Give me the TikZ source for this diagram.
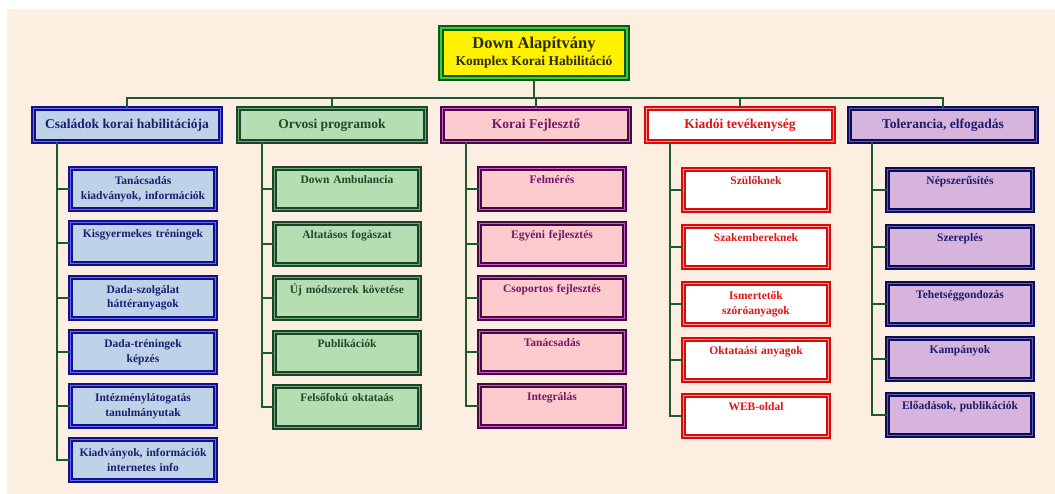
\documentclass[tikz,border=0pt]{standalone}
\usepackage{fontspec}
\setmainfont{Liberation Serif}
\usetikzlibrary{calc,shadows}

\definecolor{pagebg}{HTML}{FDEEE2}
\definecolor{linkgreen}{HTML}{1F5A2E}
\definecolor{topDark}{HTML}{0A5A10}
\definecolor{topLight}{HTML}{3CCB3C}
\definecolor{topText}{HTML}{2A2A05}
\definecolor{famDark}{HTML}{10108A}
\definecolor{famLight}{HTML}{6A6AF5}
\definecolor{famFill}{HTML}{BED2E8}
\definecolor{famText}{HTML}{1A1F70}
\definecolor{medDark}{HTML}{1C4428}
\definecolor{medLight}{HTML}{6AAE78}
\definecolor{medFill}{HTML}{B5DEB2}
\definecolor{medText}{HTML}{1E4A2A}
\definecolor{devDark}{HTML}{4C0546}
\definecolor{devLight}{HTML}{C563C0}
\definecolor{devFill}{HTML}{FBCBCD}
\definecolor{devText}{HTML}{781468}
\definecolor{pubDark}{HTML}{D80A0A}
\definecolor{pubLight}{HTML}{F7A0A0}
\definecolor{pubFill}{HTML}{FFFFFF}
\definecolor{pubText}{HTML}{E01414}
\definecolor{tolDark}{HTML}{0C0C58}
\definecolor{tolLight}{HTML}{6060B0}
\definecolor{tolFill}{HTML}{D6B4DD}
\definecolor{tolText}{HTML}{1C1C6A}

\tikzset{
	tile/.style = {rectangle, line width = 1.4pt, double distance = 1.6pt,
		inner sep = 2pt, align = center},
	head/.style = {tile, minimum width = 187pt, minimum height = 33pt,
		font = \bfseries\fontsize{13.5}{16}\selectfont},
	item/.style = {tile, minimum width = 145pt, minimum height = 41pt, text width = 140pt,
		font = \bfseries\fontsize{11.5}{14.5}\selectfont},
	tone/.style n args = {4}{draw = #1, double = #2, fill = #3, text = #4,
		drop shadow = {shadow xshift = 2pt, shadow yshift = -2.5pt, fill = #1, opacity = 1}},
	fam/.style = {tone = {famDark}{famLight}{famFill}{famText}},
	med/.style = {tone = {medDark}{medLight}{medFill}{medText}},
	dev/.style = {tone = {devDark}{devLight}{devFill}{devText}},
	pub/.style = {tone = {pubDark}{pubLight}{pubFill}{pubText}},
	tol/.style = {tone = {tolDark}{tolLight}{tolFill}{tolText}},
	link/.style = {draw = linkgreen, line width = 1.8pt}
}

\begin{document}
\begin{tikzpicture}[x = 1pt, y = -1pt]
	% page
	\fill[white] (0, 0) rectangle (1055, 494);
	\fill[pagebg] (7, 9) rectangle (1055, 494);
	\useasboundingbox (0, 0) rectangle (1055, 494);

	% root
	\node[tile, line width = 1.8pt, double distance = 2.4pt, minimum width = 186pt, minimum height = 50pt,
		tone = {topDark}{topLight}{yellow}{topText}, font = \bfseries\fontsize{13.5}{17}\selectfont]
		(root) at (534, 53) {{\fontsize{16.5}{17}\selectfont Down Alapítvány}\\Komplex Korai Habilitáció};

	% heads
	\node[head, fam] (fam) at (127, 125) {Családok korai habilitációja};
	\node[head, med] (med) at (332, 125) {Orvosi programok};
	\node[head, dev] (dev) at (536, 125) {Korai Fejlesztő};
	\node[head, pub] (pub) at (740, 125) {Kiadói tevékenység};
	\node[head, tol] (tol) at (943, 125) {Tolerancia, elfogadás};

	% families
	\node[item, fam] (fam1) at (143, 189) {Tanácsadás\\kiadványok, információk};
	\node[item, fam] (fam2) at (143, 243) {Kisgyermekes tréningek\\\strut};
	\node[item, fam] (fam3) at (143, 298) {Dada-szolgálat\\háttéranyagok};
	\node[item, fam] (fam4) at (143, 352) {Dada-tréningek\\képzés};
	\node[item, fam] (fam5) at (143, 406) {Intézménylátogatás\\tanulmányutak};
	\node[item, fam] (fam6) at (143, 460) {Kiadványok, információk\\internetes info};

	% medical
	\node[item, med] (med1) at (347, 189) {Down Ambulancia\\\strut};
	\node[item, med] (med2) at (347, 244) {Altatásos fogászat\\\strut};
	\node[item, med] (med3) at (347, 298) {Új módszerek követése\\\strut};
	\node[item, med] (med4) at (347, 353) {Publikációk\\\strut};
	\node[item, med] (med5) at (347, 407) {Felsőfokú oktataás\\\strut};

	% development
	\node[item, dev] (dev1) at (552, 189) {Felmérés\\\strut};
	\node[item, dev] (dev2) at (552, 244) {Egyéni fejlesztés\\\strut};
	\node[item, dev] (dev3) at (552, 298) {Csoportos fejlesztés\\\strut};
	\node[item, dev] (dev4) at (552, 352) {Tanácsadás\\\strut};
	\node[item, dev] (dev5) at (552, 406) {Integrálás\\\strut};

	% publishing
	\node[item, pub] (pub1) at (756, 190) {Szülőknek\\\strut};
	\node[item, pub] (pub2) at (756, 247) {Szakembereknek\\\strut};
	\node[item, pub] (pub3) at (756, 304) {Ismertetők\\szóróanyagok};
	\node[item, pub] (pub4) at (756, 360) {Oktataási anyagok\\\strut};
	\node[item, pub] (pub5) at (756, 416) {WEB-oldal\\\strut};

	% tolerance
	\node[item, tol] (tol1) at (960, 190) {Népszerűsítés\\\strut};
	\node[item, tol] (tol2) at (960, 247) {Szereplés\\\strut};
	\node[item, tol] (tol3) at (960, 304) {Tehetséggondozás\\\strut};
	\node[item, tol] (tol4) at (960, 359) {Kampányok\\\strut};
	\node[item, tol] (tol5) at (960, 415) {Előadások, publikációk\\\strut};

	% links
	\coordinate (bar) at (534, 98);
	\draw[link] (root.south) -- (bar);
	\draw[link] (fam.north) |- (bar) -| (tol.north);
	\draw[link] (med.north) -- (med.north |- bar);
	\draw[link] (dev.north) -- (dev.north |- bar);
	\draw[link] (pub.north) -- (pub.north |- bar);

	\coordinate (famT) at ($(fam.south) + (-70, 0)$);
	\coordinate (medT) at ($(med.south) + (-70, 0)$);
	\coordinate (devT) at ($(dev.south) + (-70, 0)$);
	\coordinate (pubT) at ($(pub.south) + (-70, 0)$);
	\coordinate (tolT) at ($(tol.south) + (-71, 0)$);
	\draw[link] (famT) |- (fam1.west);
	\draw[link] (famT) |- (fam2.west);
	\draw[link] (famT) |- (fam3.west);
	\draw[link] (famT) |- (fam4.west);
	\draw[link] (famT) |- (fam5.west);
	\draw[link] (famT) |- (fam6.west);
	\draw[link] (medT) |- (med1.west);
	\draw[link] (medT) |- (med2.west);
	\draw[link] (medT) |- (med3.west);
	\draw[link] (medT) |- (med4.west);
	\draw[link] (medT) |- (med5.west);
	\draw[link] (devT) |- (dev1.west);
	\draw[link] (devT) |- (dev2.west);
	\draw[link] (devT) |- (dev3.west);
	\draw[link] (devT) |- (dev4.west);
	\draw[link] (devT) |- (dev5.west);
	\draw[link] (pubT) |- (pub1.west);
	\draw[link] (pubT) |- (pub2.west);
	\draw[link] (pubT) |- (pub3.west);
	\draw[link] (pubT) |- (pub4.west);
	\draw[link] (pubT) |- (pub5.west);
	\draw[link] (tolT) |- (tol1.west);
	\draw[link] (tolT) |- (tol2.west);
	\draw[link] (tolT) |- (tol3.west);
	\draw[link] (tolT) |- (tol4.west);
	\draw[link] (tolT) |- (tol5.west);
\end{tikzpicture}
\end{document}
